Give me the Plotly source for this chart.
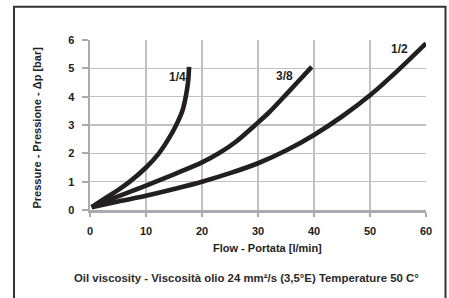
import plotly.graph_objects as go

# Data
x_14 = [0.3, 3, 5, 7.1, 10, 12.3, 14, 15.4, 16.5, 17.1, 17.5, 17.7]
y_14 = [0.1, 0.45, 0.7, 1.0, 1.5, 2.0, 2.5, 3.0, 3.5, 4.0, 4.5, 5.05]

x_38 = [0.3, 5, 10, 15, 20, 23, 26, 29.5, 32, 34.5, 37, 39.6]
y_38 = [0.1, 0.48, 0.86, 1.26, 1.68, 2.0, 2.4, 3.0, 3.45, 3.97, 4.5, 5.05]

x_12 = [0.3, 5, 10, 15, 20, 25, 30, 35, 40, 45, 50, 55, 60]
y_12 = [0.1, 0.3, 0.5, 0.74, 1.0, 1.3, 1.65, 2.1, 2.65, 3.3, 4.05, 4.93, 5.88]

series_names = ["1/4", "3/8", "1/2"]
label_pos = [(15.7, 4.7), (34.8, 4.74), (55.2, 5.68)]

x_ticks = [0, 10, 20, 30, 40, 50, 60]
y_ticks = [0, 1, 2, 3, 4, 5, 6]

curve_color = "#231f20"
grid_color = "rgb(192,193,196)"
axis_color = "rgb(170,171,174)"
font_family = "Liberation Sans, Arial, sans-serif"

x_min, x_max = x_ticks[0], x_ticks[-1]
y_min, y_max = y_ticks[0], y_ticks[-1]

fig = go.Figure()

# curves
for xs, ys, nm in zip([x_14, x_38, x_12], [y_14, y_38, y_12], series_names):
    fig.add_trace(go.Scatter(x=xs, y=ys, mode="lines", name=nm,
                             line=dict(color=curve_color, width=4.6, shape="spline"),
                             showlegend=False, hoverinfo="skip"))

annotations = []
for nm, (lx, ly) in zip(series_names, label_pos):
    annotations.append(dict(x=lx, y=ly, xref="x", yref="y", text="<b>%s</b>" % nm,
                            xanchor="center", yanchor="middle",
                            showarrow=False, font=dict(size=12, color=curve_color, family=font_family)))

annotations.append(dict(x=(267.5 - 90) / 336, y=(210 - 248) / 170, xref="paper", yref="paper",
                        xanchor="center", yanchor="middle",
                        text="<b>Flow - Portata [l/min]</b>", showarrow=False,
                        font=dict(size=11, color="#222", family=font_family)))
annotations.append(dict(x=(37 - 90) / 336, y=(210 - 127.5) / 170, xref="paper", yref="paper",
                        xanchor="center", yanchor="middle",
                        text="<b>Pressure - Pressione - Δp [bar]</b>", showarrow=False, textangle=-90,
                        font=dict(size=11, color="#222", family=font_family)))
annotations.append(dict(x=(246.5 - 90) / 336, y=(210 - 277.7) / 170, xref="paper", yref="paper",
                        xanchor="center", yanchor="middle",
                        text="<b>Oil viscosity - Viscosità olio 24 mm²/s (3,5°E) Temperature 50 C°</b>",
                        showarrow=False, font=dict(size=11.4, color="#2a2a2a", family=font_family)))

fig.update_layout(
    width=449, height=298,
    margin=dict(l=90, r=23, t=40, b=88),
    paper_bgcolor="white", plot_bgcolor="white",
    annotations=annotations,
    shapes=[dict(type="rect", xref="paper", yref="paper",
                 x0=(14 - 90) / 336, x1=(445.5 - 90) / 336,
                 y0=(210 - 320) / 170, y1=(210 - 6.7) / 170,
                 line=dict(color="#333333", width=2), fillcolor="rgba(0,0,0,0)", layer="below")],
)
axis_common = dict(showgrid=True, gridcolor=grid_color, gridwidth=1.5,
                   showline=True, linecolor=axis_color, linewidth=2.5,
                   zeroline=False, tickcolor=axis_color, tickwidth=2, ticks="outside",
                   ticklabelstandoff=5,
                   tickfont=dict(size=11, color="#222222", family=font_family))
fig.update_xaxes(range=[x_min, x_max], tickvals=x_ticks, ticktext=["<b>%d</b>" % v for v in x_ticks],
                 ticklen=4, **axis_common)
fig.update_yaxes(range=[y_min, y_max], tickvals=y_ticks, ticktext=["<b>%d</b>" % v for v in y_ticks],
                 ticklen=6, **axis_common)

fig.write_html("out.html", config={"displayModeBar": False, "staticPlot": True},
               post_script="document.body.style.margin='0px';")
